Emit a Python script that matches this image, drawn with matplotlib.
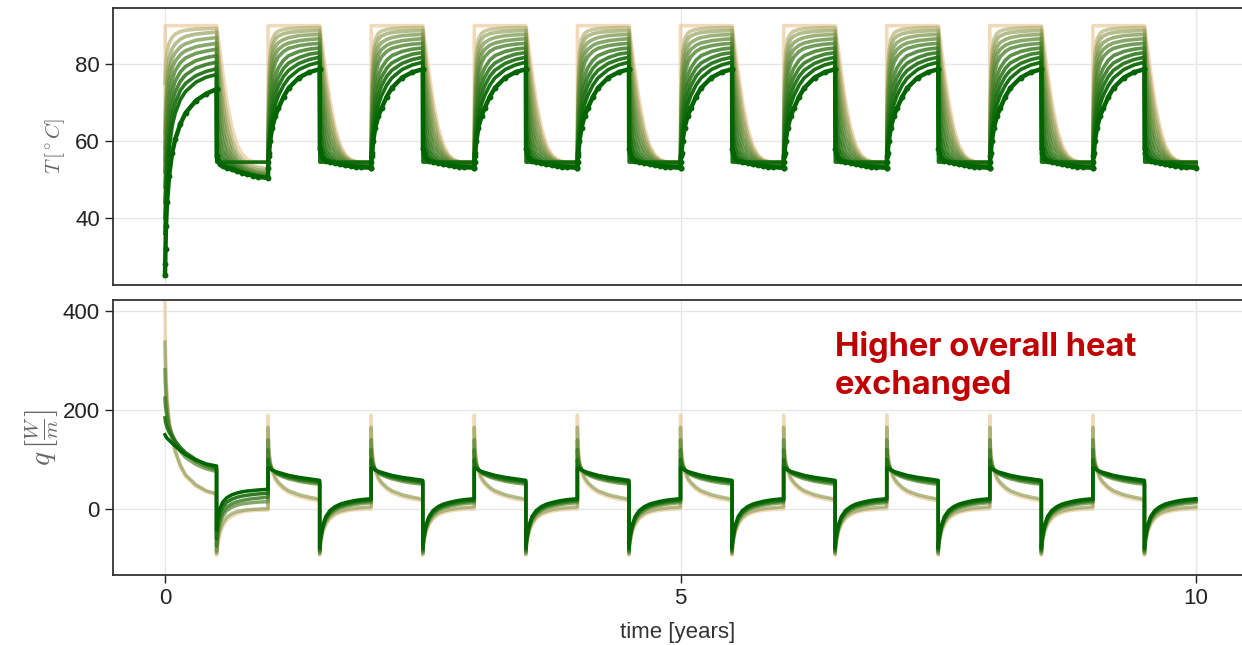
import numpy as np
import matplotlib
matplotlib.use("Agg")
import matplotlib.pyplot as plt
from matplotlib.colors import to_rgb

# ==============================
# Data
# ==============================
n_cycles = 10
# sample times inside each half year (heating: 0-0.5, cooling: 0.5-1.0)
h_t = [0, 0.002, 0.005, 0.01, 0.02, 0.04, 0.07, 0.1, 0.15, 0.2, 0.3, 0.4, 0.5]
c_t = [0, 0.002, 0.01, 0.03, 0.06, 0.1, 0.15, 0.2, 0.25, 0.3, 0.35, 0.4, 0.5]

# temperature series, lightest (tan) -> darkest, last one is the dotted curve
T_first_heat = [
    [52, 90, 90, 90, 90, 90, 90, 90, 90, 90, 90, 90, 90],
    [75, 76.5, 78, 80, 83, 85.5, 87, 87.8, 88.5, 88.8, 89.1, 89.2, 89.3],
    [62, 65, 68, 72, 77, 81.5, 84, 85.3, 86.5, 87.2, 87.8, 88.1, 88.3],
    [58, 61, 64, 68, 73.5, 78.5, 81.5, 83, 84.5, 85.3, 86.2, 86.6, 86.9],
    [55, 57.5, 60, 64, 70, 75.5, 79, 80.8, 82.5, 83.5, 84.5, 85.0, 85.4],
    [52, 54, 56.5, 60, 66, 72, 76, 78.3, 80.4, 81.6, 82.8, 83.4, 83.9],
    [48, 50, 52.5, 56, 62, 68.5, 73, 75.6, 78, 79.4, 80.9, 81.7, 82.2],
    [44, 46, 48.5, 52, 58, 65, 70, 72.8, 75.6, 77.2, 79, 79.9, 80.5],
    [40, 42, 45, 48, 54, 61.5, 67, 70, 73.2, 75, 77, 78.1, 78.8],
    [36, 38, 41, 44, 50, 58, 64, 67.3, 70.8, 72.9, 75.3, 76.6, 77.3],
    [25, 28, 32, 38, 44, 51, 57, 60.5, 64.5, 67.3, 70.5, 72.3, 73.5],
]
T_first_cool = [
    [90, 89.8, 88, 84, 78, 70.5, 63.5, 59, 56.5, 55.2, 54.7, 54.5, 54.5],
    [89.3, 88.8, 85.5, 80, 73.5, 66.5, 60.5, 57, 55.2, 54.2, 53.6, 53.2, 52.7],
    [88.3, 87, 83, 77, 70, 63.5, 58.5, 55.8, 54.3, 53.4, 52.9, 52.5, 52.1],
    [86.9, 84.5, 80, 73.5, 66.5, 61, 57, 54.9, 53.7, 52.9, 52.4, 52.0, 51.6],
    [85.4, 81, 76.5, 69.5, 63, 58.5, 55.8, 54.2, 53.2, 52.5, 52.0, 51.6, 51.2],
    [83.9, 77, 72, 65, 60, 56.8, 54.9, 53.6, 52.8, 52.1, 51.7, 51.3, 50.9],
    [82.2, 72, 66, 60.5, 57.3, 55.5, 54.1, 53.1, 52.4, 51.8, 51.4, 51.0, 50.6],
    [80.5, 65, 60, 57, 55.5, 54.5, 53.5, 52.7, 52.1, 51.6, 51.2, 50.8, 50.4],
    [78.8, 58, 56, 55, 54.2, 53.6, 53.0, 52.4, 51.9, 51.4, 51.0, 50.7, 50.3],
    [77.3, 54.5, 54.5, 54.5, 54.5, 54.5, 54.5, 54.5, 54.5, 54.5, 54.5, 54.5, 54.5],
    [73.5, 56, 55, 54, 53.4, 53, 52.6, 52.1, 51.7, 51.3, 51.0, 50.7, 50.4],
]
T_heat = [
    [90, 90, 90, 90, 90, 90, 90, 90, 90, 90, 90, 90, 90],
    [54, 66, 73, 78, 83, 86.5, 88, 88.6, 89.0, 89.2, 89.4, 89.5, 89.5],
    [54, 63, 70, 74, 80, 84.5, 86.5, 87.3, 87.9, 88.2, 88.5, 88.65, 88.7],
    [54, 61, 67, 71, 77, 82, 84.5, 85.6, 86.4, 86.9, 87.4, 87.6, 87.7],
    [54, 60, 64.5, 68, 74, 79.5, 82.5, 83.8, 84.9, 85.5, 86.1, 86.4, 86.6],
    [54, 59, 62.5, 66, 71.5, 77, 80.3, 81.9, 83.3, 84.1, 84.8, 85.2, 85.4],
    [54, 58, 61, 64, 68.5, 73.5, 77, 79, 81, 82.2, 83.3, 83.9, 84.2],
    [54, 57, 59.5, 62, 66.5, 71, 74.5, 76.6, 78.9, 80.3, 81.7, 82.6, 83.0],
    [54, 56.5, 58.5, 60, 64, 68.5, 72, 74.3, 76.8, 78.4, 80.2, 81.2, 81.8],
    [54, 56, 57.5, 58.5, 62, 66, 69.5, 71.8, 74.5, 76.4, 78.6, 79.8, 80.5],
    [53, 54.5, 56, 57, 60, 63.5, 66.5, 68.5, 71.5, 73.8, 76.5, 77.9, 78.7],
]
T_cool = [
    [90, 89.8, 88, 84, 78, 70.5, 63.5, 59, 56.5, 55.2, 54.7, 54.5, 54.5],
    [89.5, 89, 86, 81, 75, 68, 61.8, 58, 56, 55, 54.6, 54.5, 54.5],
    [88.7, 87.5, 84, 78.5, 72, 65.5, 60.2, 57.2, 55.6, 54.8, 54.5, 54.4, 54.4],
    [87.7, 85.5, 81.5, 75.5, 69, 63, 58.8, 56.5, 55.2, 54.6, 54.4, 54.3, 54.3],
    [86.6, 83, 79, 72.5, 66, 60.8, 57.6, 55.9, 54.9, 54.4, 54.2, 54.1, 54.1],
    [85.4, 80, 76, 69, 63, 58.8, 56.5, 55.3, 54.6, 54.2, 54.0, 53.9, 53.9],
    [84.2, 76, 72, 65, 60, 57, 55.5, 54.7, 54.2, 53.9, 53.8, 53.7, 53.6],
    [83.0, 70, 67, 61, 57.5, 55.8, 54.8, 54.3, 53.9, 53.7, 53.6, 53.5, 53.4],
    [81.8, 64, 62, 58, 56, 55, 54.3, 53.9, 53.6, 53.5, 53.4, 53.3, 53.2],
    [80.5, 54.5, 54.5, 54.5, 54.5, 54.5, 54.5, 54.5, 54.5, 54.5, 54.5, 54.5, 54.5],
    [78.7, 58, 57, 55.5, 54.9, 54.5, 54.2, 53.9, 53.7, 53.5, 53.3, 53.2, 53.0],
]

# heat flux series, lightest (tan) -> darkest
q_first_heat = [
    [420, 370, 330, 280, 230, 180, 140, 115, 85, 66, 46, 35, 29],
    [337, 310, 285, 255, 215, 172, 140, 117, 88, 69, 49, 37, 31],
    [281, 260, 245, 225, 200, 170, 148, 133, 116, 104, 90, 81, 76],
    [224, 215, 207, 200, 185, 165, 150, 138, 122, 111, 96, 86, 79],
    [184, 180, 176, 172, 165, 155, 145, 136, 124, 114, 100, 90, 83],
    [150, 149, 148, 146, 143, 139, 133, 127, 118, 110, 99, 91, 87],
]
q_first_cool = [
    [-93, -88, -75, -52, -35, -22, -14, -9, -6, -4, -3, -2.5, -2],
    [-90, -84, -68, -45, -28, -16, -9, -5, -3, -1.5, -0.5, 0, 1],
    [-85, -76, -58, -32, -14, -3, 4, 8, 10.5, 12, 13, 14, 15],
    [-75, -65, -48, -24, -7, 4, 11, 15, 17.5, 19.5, 21, 22, 24],
    [-60, -50, -35, -12, 4, 14, 20, 24, 26.5, 28, 29.5, 30.5, 32],
    [-43, -35, -20, 0, 14, 23, 29, 32.5, 35, 36.5, 37.5, 38.5, 40],
]
q_heat = [
    [190, 160, 138, 120, 98, 76, 59, 50, 40, 33, 25, 20, 16.5],
    [165, 145, 127, 112, 95, 78, 63, 54, 44, 37, 29, 24, 20],
    [140, 122, 110, 102, 90, 80, 73, 69, 64.5, 61, 56, 52.5, 50],
    [120, 107, 99, 95, 87, 80, 74, 70.5, 66.5, 63.5, 58.5, 55.5, 53],
    [100, 95, 91, 88, 84, 79, 75, 72, 68.5, 65.5, 61, 58, 55.5],
    [83, 83, 82.5, 82, 81, 79, 76, 74, 71, 68, 64, 61, 58],
]
q_cool = [
    [-93, -85, -70, -48, -32, -20, -12, -7.5, -4.5, -2.5, -1.5, -0.5, 0.5],
    [-91, -82, -66, -44, -28, -16, -8, -4, -1.5, 0.5, 2, 3, 4.5],
    [-88, -78, -62, -40, -23, -11, -3, 2, 5, 7.5, 9.5, 11, 13],
    [-85, -75, -60, -38, -20, -8, 0, 5, 8, 10.5, 12.5, 14, 16],
    [-82, -72, -58, -36, -18, -6, 2.5, 7.5, 10.5, 13, 15, 16.5, 18.5],
    [-78, -68, -55, -33, -15, -3, 5, 10, 13, 15.5, 17.5, 19, 21],
]

x_ticks = [0, 5, 10]
T_ticks = [40, 60, 80]
q_ticks = [0, 200, 400]
note = "Higher overall heat\nexchanged"


def build(i, first_h, first_c, heat, cool):
    t, v = [], []
    for k in range(n_cycles):
        h = first_h[i] if k == 0 else heat[i]
        c = first_c[i] if k == 0 else cool[i]
        t += [k + s for s in h_t]
        v += h
        t += [k + 0.5 + s for s in c_t]
        v += c
    return np.array(t), np.array(v)


def blend(f):
    a = np.array(to_rgb("#E8C28C"))
    b = np.array(to_rgb("#006400"))
    f = f ** 0.6
    return tuple(a + (b - a) * f)


# ==============================
# Figure
# ==============================
plt.rcParams["font.family"] = ["Liberation Sans", "DejaVu Sans"]
plt.rcParams["mathtext.fontset"] = "cm"

fig = plt.figure(figsize=(12.42, 6.45), dpi=100)
ax1 = fig.add_axes([0.091, 0.558, 0.909, 0.4296])
ax2 = fig.add_axes([0.091, 0.1085, 0.909, 0.4265])

# temperatures
nT = len(T_heat)
for i in range(nT):
    t, v = build(i, T_first_heat, T_first_cool, T_heat, T_cool)
    f = i / (nT - 1)
    if i == nT - 1:
        ax1.plot(t, v, color="#006400", lw=3.2, marker="o", ms=3.2, zorder=5)
    else:
        ax1.plot(t, v, color=blend(f), lw=2.6, alpha=0.6 + 0.4 * f, zorder=2 + f)

# heat flux
nq = len(q_heat)
for i in range(nq):
    t, v = build(i, q_first_heat, q_first_cool, q_heat, q_cool)
    f = i / (nq - 1)
    ax2.plot(t, v, color=blend(f), lw=2.5, alpha=0.6 + 0.4 * f, zorder=2 + f)

ax2.text(6.5, 360, note, color="#C00000", fontsize=23.5, fontweight="bold",
         family=["Inter", "DejaVu Sans"], ha="left", va="top", linespacing=1.32)

for ax in (ax1, ax2):
    ax.set_xlim(-0.504, 10.446)
    ax.set_xticks(x_ticks)
    ax.grid(True, color="#e6e6e6", lw=1.0)
    ax.set_axisbelow(True)
    ax.spines["right"].set_visible(False)
    for s in ("left", "top", "bottom"):
        ax.spines[s].set_color("#333333")
        ax.spines[s].set_linewidth(1.3)
    ax.tick_params(labelsize=16, colors="#222222", width=1.0, length=6)

ax1.set_ylim(22.5, 94.6)
ax1.set_yticks(T_ticks)
ax1.tick_params(axis="x", length=0, labelbottom=False)
ax1.set_ylabel(r"$T\,[^\circ C]$", fontsize=15, color="#666666", labelpad=6)

ax2.set_ylim(-133, 422)
ax2.set_yticks(q_ticks)
ax2.set_xlabel("time [years]", fontsize=16, color="#333333", labelpad=9)
ax2.set_ylabel(r"$q\,\left[\frac{W}{m}\right]$", fontsize=21, color="#666666", labelpad=2)

fig.savefig("out.png", dpi=100)
